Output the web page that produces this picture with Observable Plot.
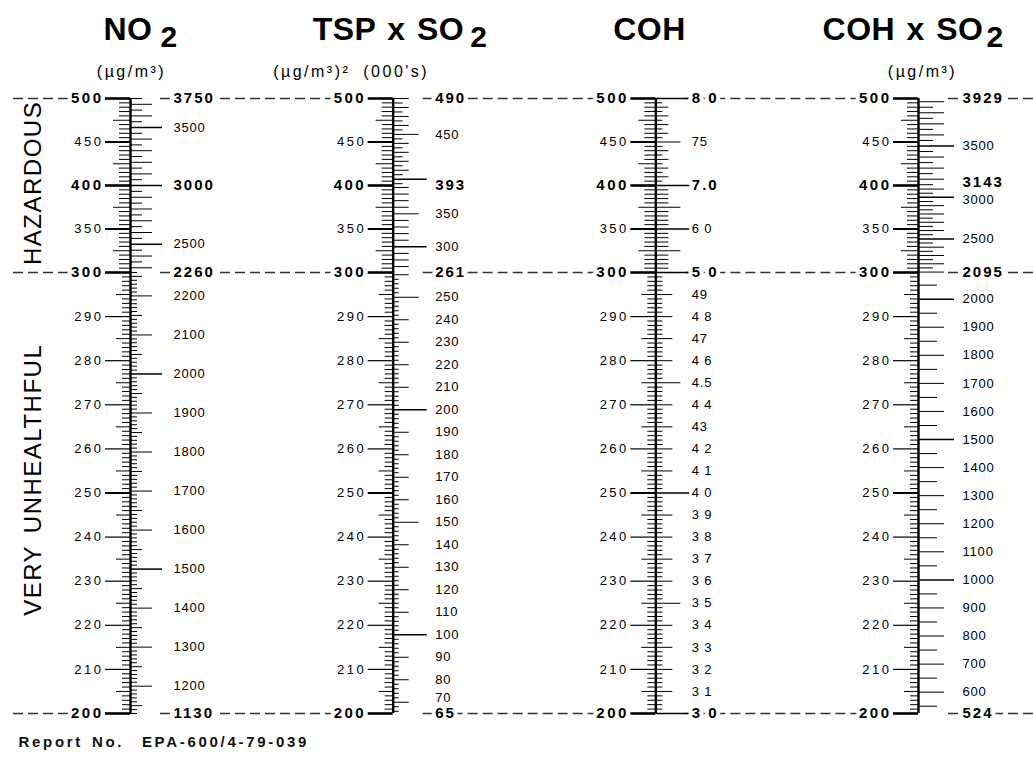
<!DOCTYPE html>
<html>
<head>
<meta charset="utf-8">
<script src="https://cdn.jsdelivr.net/npm/d3@7"></script>
<script src="https://cdn.jsdelivr.net/npm/@observablehq/plot@0.6"></script>
<style>
  html, body { margin: 0; padding: 0; background: #fff; }
  #chart svg { display: block; }
</style>
</head>
<body>
<div id="chart"></div>
<script>
// ---------------- DATA ----------------
const scaleNames = ["NO2", "TSP x SO2", "COH", "COH x SO2"];
const titleMain = ["NO", "TSP x SO", "COH", "COH x SO"];
const titleSub = ["2", "2", "", "2"];
const unitLabels = ["(µg/m³)", "(µg/m³)² (000's)", "", "(µg/m³)"];

// pollutant standard index breakpoints (left side of every scale)
const indexBreaks = [200, 300, 400, 500];
const indexLabelsBold = [200, 300, 400, 500];
const indexLabels = [210, 220, 230, 240, 250, 260, 270, 280, 290, 350, 450];

// concentrations that correspond to the index breakpoints
const no2Breaks = [1130, 2260, 3000, 3750];
const tspBreaks = [65, 261, 393, 490];
const cohBreaks = [3.0, 5.0, 7.0, 8.0];
const cohSo2Breaks = [524, 2095, 3143, 3929];
const cohBreakText = ["3 0", "5 0", "7.0", "8 0"];

// labelled concentration ticks (right side of every scale)
const no2Labels = [1200, 1300, 1400, 1500, 1600, 1700, 1800, 1900, 2000, 2100, 2200, 2500, 3500];
const tspLabels = [70, 80, 90, 100, 110, 120, 130, 140, 150, 160, 170, 180, 190, 200, 210, 220, 230, 240, 250, 300, 350, 450];
const cohLabels = [3.1, 3.2, 3.3, 3.4, 3.5, 3.6, 3.7, 3.8, 3.9, 4.0, 4.1, 4.2, 4.3, 4.4, 4.5, 4.6, 4.7, 4.8, 4.9, 6.0, 7.5];
const cohLabelText = ["3 1", "3 2", "3 3", "3 4", "3 5", "3 6", "3 7", "3 8", "3 9", "4 0", "4 1", "4 2", "43", "4 4", "4.5", "4 6", "47", "4 8", "49", "6 0", "75"];
const cohSo2Labels = [600, 700, 800, 900, 1000, 1100, 1200, 1300, 1400, 1500, 1600, 1700, 1800, 1900, 2000, 2500, 3000, 3500];

const zoneNames = ["HAZARDOUS", "VERY UNHEALTHFUL"];
const zoneCenters = [403, 253];
const connectorLevels = [200, 300, 500];
const reportText = "Report No.  EPA-600/4-79-039";

// ---------------- LAYOUT / STYLE ----------------
const W = 1033, H = 757;
const spineRange = [130, 918];
const yRange = [713, 272, 98];            // pixel rows of index 200, 300, 500
const PXU = (spineRange[1] - spineRange[0]) / (scaleNames.length - 1);
const u = p => p / PXU;                   // pixels -> column units
const mult = (v, m) => Math.abs(v / m - Math.round(v / m)) < 1e-6;

const titleMainDx = [22, 71, 30, 65];
const titleSubDx = [30, 77, 0, 68];
const unitDx = [1, -42, 0, 4];
const rightDx = [43, 42, 36, 44];
const leftDx = -27;
// small vertical nudges (px) for crowded labels: key "column:text"
const labelNudge = {"1:70": -4, "3:3143": -3, "3:3000": 2};

const leftSegs = [[200, 300, 1], [300, 500, 5]];
const leftLen = (v, s) => s === 0 ? (mult(v, 10) ? 25 : mult(v, 5) ? 14 : 8)
                                  : (mult(v, 50) ? 25 : mult(v, 25) ? 17 : 11);
const leftW = (v, s) => indexLabelsBold.includes(v) ? 2.6 : mult(v, 50) ? 2 : (s === 0 && mult(v, 10)) ? 1.2 : 1;

const rightTickSteps = [[10, 50, 50], [2, 10, 5], [0.02, 0.1, 0.05], [50, 50, 50]];
const rightTickLen = [
  (v, s) => mult(v, 500) ? 32 : mult(v, 100) ? 22 : mult(v, 50) ? 12 : 7,
  (v, s) => mult(v, 100) ? 34 : mult(v, 50) ? 26 : mult(v, 10) ? 16 : mult(v, 5) ? 10 : 6,
  (v, s) => mult(v, 1) ? 34 : mult(v, 0.5) ? 25 : mult(v, 0.1) ? (s === 0 ? 17 : 13) : 7,
  (v, s) => mult(v, 500) ? 36 : mult(v, 100) ? 26 : (s === 0 ? 19 : 15)
];

// ---------------- DERIVED ----------------
const concBreaks = [no2Breaks, tspBreaks, cohBreaks, cohSo2Breaks];
const toIndex = concBreaks.map(b => d3.scaleLinear().domain(b).range(indexBreaks));
const cols = scaleNames.map((_, i) => i);

function ticksBetween(a, b, step) {
  const out = [];
  const k0 = Math.ceil(a / step - 1e-9), k1 = Math.floor(b / step + 1e-9);
  for (let k = k0; k <= k1; k++) out.push(+(k * step).toFixed(6));
  return out;
}

const ticks = [];
cols.forEach(c => {
  leftSegs.forEach(([a, b, step], s) => {
    ticksBetween(a, b, step).forEach(v => {
      if (s === 1 && v === a) return;
      const len = leftLen(v, s);
      ticks.push({y: v, x1: c - u(len), x2: c, w: leftW(v, s)});
    });
  });
  const br = concBreaks[c], sc = toIndex[c];
  for (let s = 0; s < br.length - 1; s++) {
    ticksBetween(br[s], br[s + 1], rightTickSteps[c][s]).forEach(v => {
      if (s > 0 && Math.abs(v - br[s]) < 1e-9) return;
      const len = rightTickLen[c](v, s);
      ticks.push({y: sc(v), x1: c, x2: c + u(len), w: len >= 30 ? 1.5 : 1});
    });
  }
});

const idxBold = cols.flatMap(c => indexLabelsBold.map(v => ({c, y: v, text: String(v)})));
const idxReg = cols.flatMap(c => indexLabels.map(v => ({c, y: v, text: String(v)})));

const concBold = cols.flatMap(c => concBreaks[c].map((v, i) => ({
  c, y: toIndex[c](v), text: c === 2 ? cohBreakText[i] : String(v)
})));
const regLists = [no2Labels, tspLabels, cohLabels, cohSo2Labels];
const concReg = cols.flatMap(c => regLists[c].map((v, i) => ({
  c, y: toIndex[c](v), text: c === 2 ? cohLabelText[i] : String(v)
})));

const last = cols.length - 1;
const dashSegs = connectorLevels.flatMap(level => [
  {y: level, x1: u(-117), x2: u(-27)},
  ...cols.slice(0, last).map(i => ({y: level, x1: i + u(30), x2: i + 1 - u(27)})),
  {y: level, x1: last + u(30), x2: last + u(118)}
]);

const FONT = "Liberation Sans, Arial, Helvetica, sans-serif";

const chart = Plot.plot({
  width: W, height: H,
  marginTop: 0, marginRight: 0, marginBottom: 0, marginLeft: 0,
  x: {type: "linear", domain: [0, last], range: spineRange, axis: null},
  y: {type: "linear", domain: [indexBreaks[0], indexBreaks[1], indexBreaks[3]], range: yRange, axis: null},
  style: {background: "white", fontFamily: FONT, color: "black"},
  marks: [
    Plot.ruleY(dashSegs, {y: "y", x1: "x1", x2: "x2", stroke: "#333", strokeWidth: 1.3, strokeDasharray: "10,5"}),
    Plot.ruleX(cols, {x: d => d, y1: indexBreaks[0], y2: indexBreaks[3], stroke: "black", strokeWidth: 2.4}),
    Plot.ruleY(ticks, {y: "y", x1: "x1", x2: "x2", stroke: "black", strokeWidth: "w"}),
    // left index labels
    Plot.text(idxBold, {x: d => d.c + u(leftDx), y: "y", text: "text", textAnchor: "end", lineAnchor: "middle",
      fontSize: 15, fontWeight: "bold", fill: "black", stroke: "white", strokeWidth: 8, ariaDescription: "idx-bold"}),
    Plot.text(idxReg, {x: d => d.c + u(leftDx), y: "y", text: "text", textAnchor: "end", lineAnchor: "middle",
      fontSize: 13, fill: "black", stroke: "white", strokeWidth: 6, ariaDescription: "idx"}),
    // right concentration labels
    Plot.text(concReg, {x: d => d.c + u(rightDx[d.c]), y: "y", text: "text", textAnchor: "start", lineAnchor: "middle",
      fontSize: 13, fill: "black", stroke: "white", strokeWidth: 5, ariaDescription: "conc"}),
    Plot.text(concBold, {x: d => d.c + u(rightDx[d.c]), y: "y", text: "text", textAnchor: "start", lineAnchor: "middle",
      fontSize: 15, fontWeight: "bold", fill: "black", stroke: "white", strokeWidth: 8, ariaDescription: "conc-bold"}),
    // titles
    Plot.text(cols, {x: i => i + u(titleMainDx[i]), text: i => titleMain[i], frameAnchor: "top", lineAnchor: "bottom",
      dy: 39, textAnchor: "end", fontSize: 32, fontWeight: "bold", fill: "black", ariaDescription: "title"}),
    Plot.text(cols.filter(i => titleSub[i]), {x: i => i + u(titleSubDx[i]), text: i => titleSub[i], frameAnchor: "top",
      lineAnchor: "bottom", dy: 46, textAnchor: "start", fontSize: 30, fontWeight: "bold", fill: "black", ariaDescription: "title-sub"}),
    Plot.text(cols.filter(i => unitLabels[i]), {x: i => i + u(unitDx[i]), text: i => unitLabels[i], frameAnchor: "top",
      lineAnchor: "bottom", dy: 76, textAnchor: "middle", fontSize: 16, fill: "black", ariaDescription: "units"}),
    // zone names
    Plot.text(zoneNames, {x: () => u(-97), y: (d, i) => zoneCenters[i], text: d => d, rotate: -90,
      textAnchor: "middle", lineAnchor: "middle", fontSize: 24, fill: "black", ariaDescription: "zone"}),
    // report number
    Plot.text([reportText], {text: d => d, frameAnchor: "bottom-left", dx: 18, dy: -11, lineAnchor: "bottom",
      textAnchor: "start", fontSize: 15, fontWeight: "bold", fill: "#111", ariaDescription: "report"})
  ]
});

const spacing = {
  "title": ["0.5px", "2px"], "title-sub": ["0px", "0px"], "units": ["2.5px", "6px"], "zone": ["1.5px", "4px"],
  "report": ["2.7px", "2px"], "idx-bold": ["2.5px", "0px"], "idx": ["2.5px", "0px"],
  "conc-bold": ["2px", "0px"], "conc": ["0.8px", "0px"]
};
Object.entries(spacing).forEach(([k, [ls, ws]]) => {
  chart.querySelectorAll(`g[aria-description="${k}"]`).forEach(g => {
    g.style.letterSpacing = ls;
    g.style.wordSpacing = ws;
    g.style.paintOrder = "stroke";
    g.style.strokeLinejoin = "round";
    g.style.whiteSpace = "pre";
  });
});
// apply vertical nudges to crowded labels
chart.querySelectorAll(`g[aria-description="conc"] text, g[aria-description="conc-bold"] text`).forEach(t => {
  const g = t.parentNode;
  const isReg = g.getAttribute("aria-description") === "conc";
  const list = isReg ? concReg : concBold;
  const idx = Array.prototype.indexOf.call(g.children, t);
  const d = list[idx];
  if (!d) return;
  const n = labelNudge[`${d.c}:${d.text}`];
  if (n) t.setAttribute("transform", t.getAttribute("transform") + ` translate(0,${n})`);
});
document.getElementById("chart").appendChild(chart);
</script>
</body>
</html>
